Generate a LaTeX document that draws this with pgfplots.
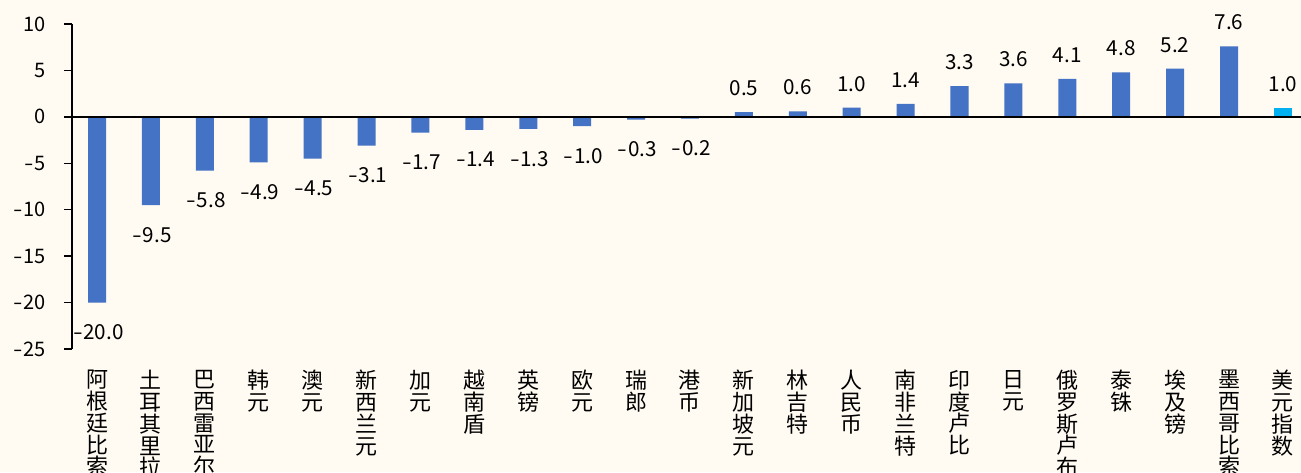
\documentclass[border=0pt]{standalone}
\usepackage{fontspec}
\setmainfont{Noto Sans CJK SC}
\usepackage{pgfplots}
\usepackage{pgfplotstable}
\pgfplotsset{compat=1.18}
\definecolor{bg}{HTML}{FFFBF2}
\definecolor{barblue}{HTML}{4472C4}
\definecolor{barcyan}{HTML}{00B0F0}
\newcommand\mns{\kern0.12em\scalebox{1.35}[1]{-}\kern0.03em}

\pgfplotstableread{
x y lab
0 -20.0 \mns20.0
1 -9.5 \mns9.5
2 -5.8 \mns5.8
3 -4.9 \mns4.9
4 -4.5 \mns4.5
5 -3.1 \mns3.1
6 -1.7 \mns1.7
7 -1.4 \mns1.4
8 -1.3 \mns1.3
9 -1.0 \mns1.0
10 -0.3 \mns0.3
11 -0.2 \mns0.2
}\negdata

\pgfplotstableread{
x y lab
12 0.5 0.5
13 0.6 0.6
14 1.0 1.0
15 1.4 1.4
16 3.3 3.3
17 3.6 3.6
18 4.1 4.1
19 4.8 4.8
20 5.2 5.2
21 7.6 7.6
}\posdata

\begin{document}
\begin{tikzpicture}
\fill[bg] (-54pt,-92.25pt) rectangle (921.75pt,261.75pt);
\begin{axis}[
  at={(0,0)}, anchor=south west,
  scale only axis, width=928.4pt, height=243.75pt,
  ymin=-25, ymax=10, ytick={-25,-20,...,10},
  yticklabels={\mns25,\mns20,\mns15,\mns10,\mns5,0,5,10},
  xmin=-0.464, xmax=22.5,
  axis lines*=left,
  axis line style={-, line width=1pt, black},
  x axis line style={draw=none},
  xtick={0,...,22},
  xtick style={draw=none},
  ytick style={black, line width=1pt},
  tick align=outside,
  major tick length=6pt,
  ticklabel style={font=\fontsize{15}{15}\selectfont},
  yticklabel style={xshift=-10pt},
  xticklabel style={anchor=north, align=center, yshift=-6.5pt, font=\fontsize{16.5}{16.3}\selectfont},
  xticklabels={{阿\\根\\廷\\比\\索},{土\\耳\\其\\里\\拉},{巴\\西\\雷\\亚\\尔},{韩\\元},{澳\\元},{新\\西\\兰\\元},{加\\元},{越\\南\\盾},{英\\镑},{欧\\元},{瑞\\郎},{港\\币},{新\\加\\坡\\元},{林\\吉\\特},{人\\民\\币},{南\\非\\兰\\特},{印\\度\\卢\\比},{日\\元},{俄\\罗\\斯\\卢\\布},{泰\\铢},{埃\\及\\镑},{墨\\西\\哥\\比\\索},{美\\元\\指\\数}},
  ybar, bar width=13.5pt,
  clip=false,
  point meta=explicit symbolic,
  nodes near coords,
  nodes near coords style={font=\fontsize{15.5}{15.5}\selectfont, black, inner sep=0pt},
]
\addplot[fill=barblue, draw=none, bar shift=0pt,
  nodes near coords style={anchor=north, yshift=-16.5pt}] table[x=x,y=y,meta=lab] {\negdata};
\addplot[fill=barblue, draw=none, bar shift=0pt,
  nodes near coords style={anchor=south, yshift=12pt}] table[x=x,y=y,meta=lab] {\posdata};
\addplot[fill=barcyan, draw=none, bar shift=0pt,
  nodes near coords style={anchor=south, yshift=12pt}] coordinates {(22,1.0) [1.0]};
\draw[black, line width=1pt] ({rel axis cs:0,0}|-{axis cs:0,0}) -- ({rel axis cs:1,0}|-{axis cs:0,0});
\end{axis}
\pgfresetboundingbox
\useasboundingbox (-54pt,-92.25pt) rectangle (921.75pt,261.75pt);
\end{tikzpicture}
\end{document}
